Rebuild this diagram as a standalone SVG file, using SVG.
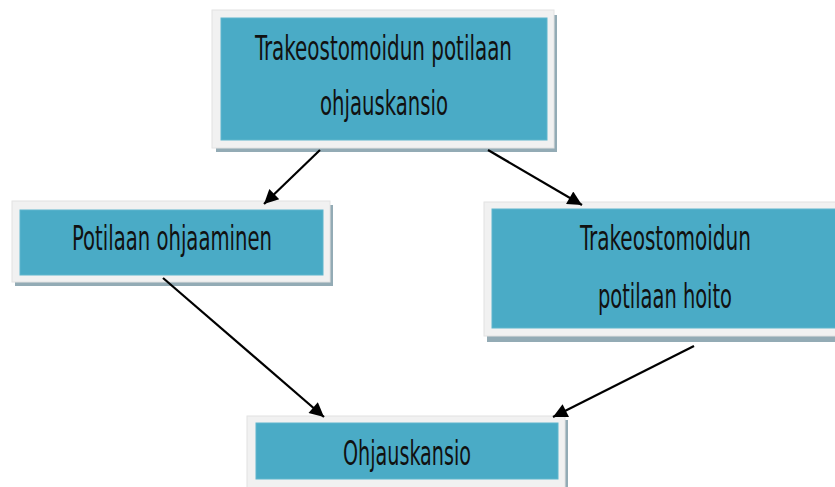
<svg xmlns="http://www.w3.org/2000/svg" width="835" height="487" viewBox="0 0 835 487">
<defs>
<style>
.shadow{fill:#93abb5}
.frame{fill:#f1f1f1;stroke:#e2e2e2;stroke-width:1}
.box{fill:#4aabc6;stroke:#5fb6cd;stroke-width:1}
.t{font-family:"DejaVu Sans Condensed","DejaVu Sans","Liberation Sans Narrow",sans-serif;font-stretch:condensed;font-size:33px;fill:#111}
.c{stroke:#000;stroke-width:2.2;fill:none}
</style>
<marker id="ah" viewBox="0 0 10 10" refX="10" refY="5" markerWidth="8" markerHeight="6.5" markerUnits="strokeWidth" orient="auto">
<path d="M0,0 L10,5 L0,10 z" fill="#000"/>
</marker>
</defs>
<rect width="835" height="487" fill="#fff"/>
<g id="node-top">
<rect class="shadow" x="216" y="15" width="341" height="137"/>
<rect class="frame" x="212" y="10" width="342" height="138"/>
<rect class="box" x="221" y="18" width="326" height="122"/>
<text class="t" x="255" y="60" textLength="257" lengthAdjust="spacingAndGlyphs">Trakeostomoidun potilaan</text>
<text class="t" x="320" y="115" textLength="128" lengthAdjust="spacingAndGlyphs">ohjauskansio</text>
</g>
<g id="node-left">
<rect class="shadow" x="15" y="205" width="318" height="81"/>
<rect class="frame" x="12" y="201" width="318" height="81"/>
<rect class="box" x="20" y="210" width="303" height="65"/>
<text class="t" x="72" y="250" textLength="200" lengthAdjust="spacingAndGlyphs">Potilaan ohjaaminen</text>
</g>
<g id="node-right">
<rect class="shadow" x="487" y="206" width="360" height="136"/>
<rect class="frame" x="484" y="202" width="360" height="134"/>
<rect class="box" x="492" y="209" width="360" height="119"/>
<text class="t" x="580" y="250" textLength="171" lengthAdjust="spacingAndGlyphs">Trakeostomoidun</text>
<text class="t" x="598" y="308" textLength="134" lengthAdjust="spacingAndGlyphs">potilaan hoito</text>
</g>
<g id="node-bottom">
<rect class="shadow" x="251" y="420" width="317" height="80"/>
<rect class="frame" x="247" y="416" width="318" height="80"/>
<rect class="box" x="256" y="423" width="302" height="56"/>
<text class="t" x="343" y="465" textLength="128" lengthAdjust="spacingAndGlyphs">Ohjauskansio</text>
</g>
<g id="connectors">
<line class="c" x1="320" y1="150" x2="264" y2="204" marker-end="url(#ah)"/>
<line class="c" x1="488" y1="150" x2="582" y2="205" marker-end="url(#ah)"/>
<line class="c" x1="163" y1="278" x2="324" y2="417" marker-end="url(#ah)"/>
<line class="c" x1="694" y1="346" x2="553" y2="417" marker-end="url(#ah)"/>
</g>
</svg>
